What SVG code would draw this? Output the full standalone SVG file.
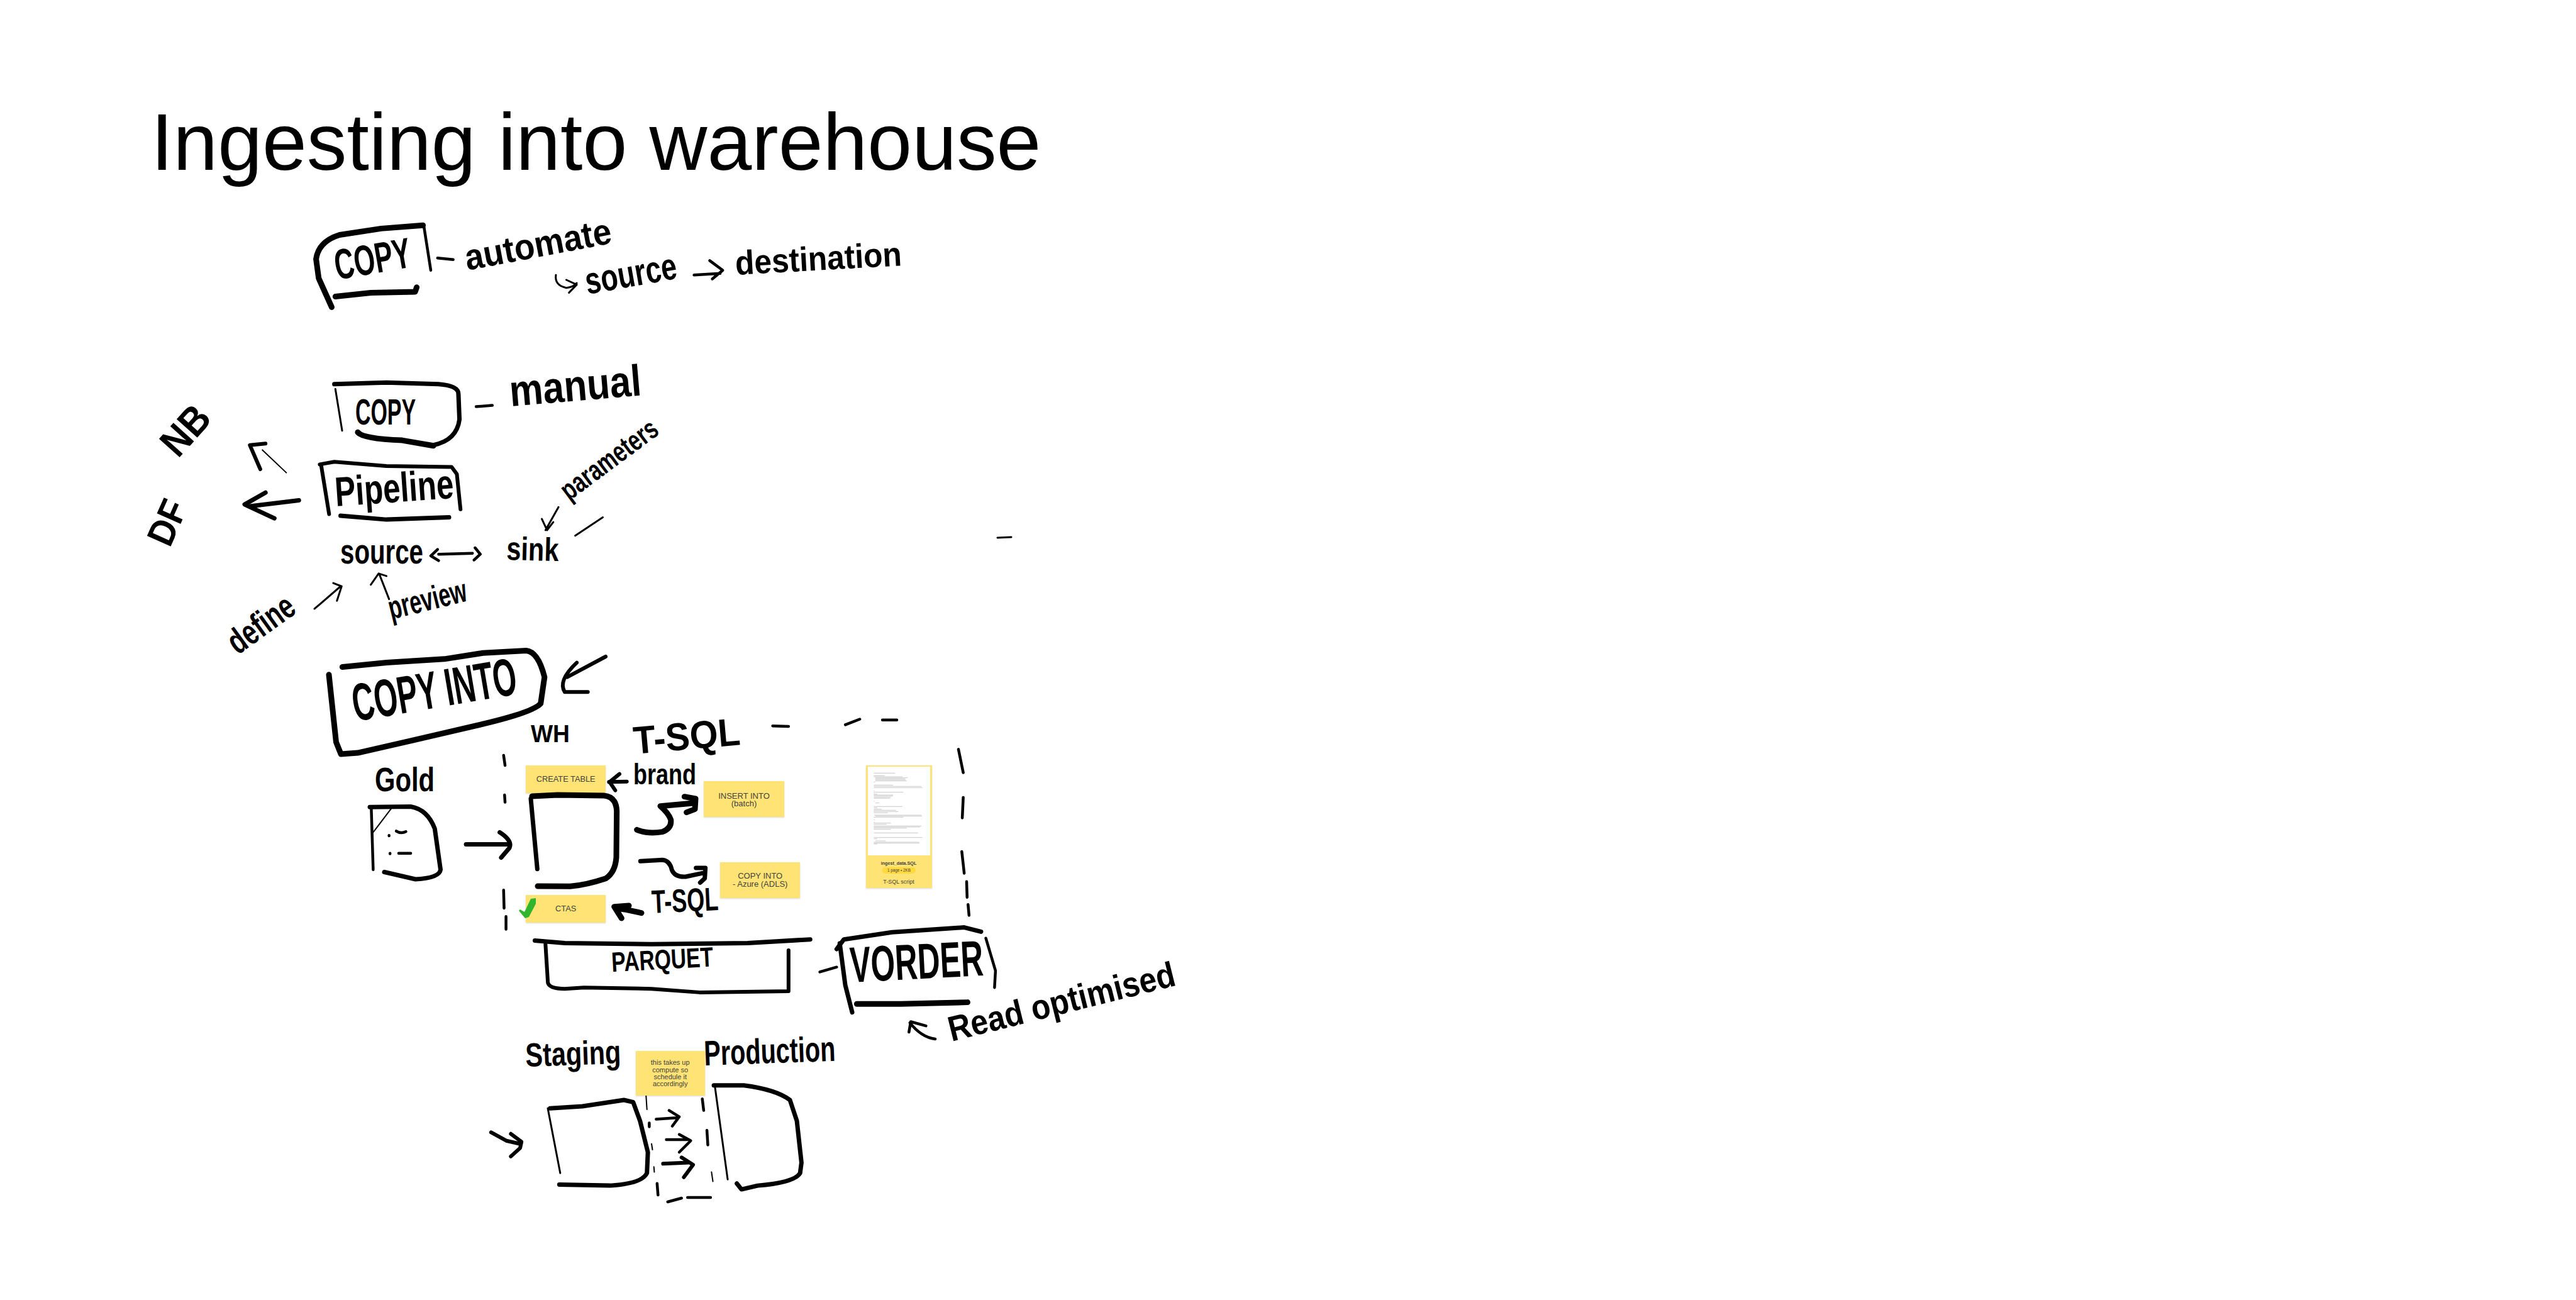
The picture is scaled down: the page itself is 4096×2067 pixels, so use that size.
<svg xmlns="http://www.w3.org/2000/svg" width="4096" height="2067" viewBox="0 0 4096 2067">
<defs>
<filter id="sh" x="-10%" y="-10%" width="120%" height="125%"><feDropShadow dx="0" dy="1" stdDeviation="1" flood-color="#000" flood-opacity="0.16"/></filter>
</defs>
<style>
.i{fill:none;stroke:#000;stroke-linecap:round;stroke-linejoin:round;vector-effect:non-scaling-stroke}
.w1{stroke-width:2}.w2{stroke-width:3}.w3{stroke-width:4.5}.w4{stroke-width:6}.w5{stroke-width:7}.w6{stroke-width:9}
.h{font-family:"Liberation Sans",Arial,sans-serif;font-weight:700;fill:#000}
.s{fill:#ffe475;filter:url(#sh)}
.t{font-family:"Liberation Sans",Arial,sans-serif;fill:#3f3f3f;text-anchor:middle}
.l{stroke:#8a8a8a;stroke-width:1.4;fill:none}
</style>
<rect width="4096" height="2067" fill="#fff"/>
<text id="title" x="240" y="270" font-family="'Liberation Sans',Arial,sans-serif" font-size="127.3" fill="#000">Ingesting into warehouse</text>

<g id="connectors">
<g transform="translate(200,320) scale(.829,.5102)">
<path class="i w3" d="M598 177L628 182"/>
<path class="i w2" d="M825 230Q822 262 845 270Q858 268 865 255M845 245L865 260L850 285"/>
<path class="i w3" d="M1090 230L1140 225M1120 185L1145 215L1125 242"/>
<path class="i w3" d="M672 640L703 636"/>
<path class="i w1" d="M308 846L262 775"/>
<path class="i w4" d="M258 835L238 760L268 755"/>
<path class="i w5" d="M332 932L240 950M268 908L228 945L285 988"/>
<path class="i w3" d="M600 1100L665 1097M598 1085L585 1105L600 1120M670 1080L680 1100L668 1118"/>
<path class="i w2" d="M830 953L805 1025M798 990L808 1025L820 1000"/>
<path class="i w2" d="M915 985L862 1042"/>
<path class="i w2" d="M362 1270L412 1200M398 1190L414 1200L405 1245"/>
<path class="i w2" d="M505 1240L487 1165M470 1195L485 1160L500 1168"/>
</g>
<g transform="translate(500,1000) scale(.7653,.3827)">
<path class="i w4" d="M605 115L525 200M545 140Q505 215 520 262L568 262"/>
<path class="i w5" d="M315 895L405 895M385 845Q412 880 405 910L388 950"/>
<path class="i w3" d="M1050 1425L1085 1405"/>
</g>
<g transform="translate(820,1190) scale(.3333)">
<path class="i w4" d="M445 160L530 158M495 122L448 160L475 200"/>
<path class="i w6" d="M578 388Q630 410 700 398Q745 380 740 340Q730 310 690 275L855 260M805 230L858 240L855 290L815 305"/>
<path class="i w5" d="M595 538L700 532Q735 535 745 580Q760 615 810 612L890 595M860 570L905 570L902 620L880 640"/>
<path class="i w6" d="M600 785L530 770L478 762M540 750L470 755L505 810"/>
</g>
<g transform="translate(750,1500) scale(.7334,.332)">
<path class="i w3" d="M1005 458Q975 450 950 380M948 425L952 375L985 395"/>
<path class="i w4" d="M42 905L75 945L105 960M85 912L108 950L105 980L85 1020"/>
<path class="i w3" d="M400 842L445 835M428 800L450 830L435 875"/>
<path class="i w3" d="M422 940L470 940M450 915L475 945L450 1000"/>
<path class="i w4" d="M415 1055L470 1050M455 1025L480 1060L460 1120"/>
</g>
<path class="i w2" d="M1586 855L1608 854"/>
</g>

<g id="copy-automate">
<g transform="translate(200,320) scale(.829,.5102)">
<path class="i w6" d="M570 75L490 85L410 105Q370 125 365 180L370 240L395 330"/>
<path class="i w3" d="M572 80L585 215"/>
<path class="i w6" d="M402 297L470 285L555 282L558 268"/>
</g>
<text class="h" x="536" y="445" font-size="68" textLength="122" lengthAdjust="spacingAndGlyphs" transform="rotate(-9.8 536 445)">COPY</text>
<text class="h" x="743" y="430" font-size="58" textLength="236" lengthAdjust="spacingAndGlyphs" transform="rotate(-10.7 743 430)">automate</text>
<text class="h" x="934" y="468" font-size="60" textLength="147" lengthAdjust="spacingAndGlyphs" transform="rotate(-10 934 468)">source</text>
<text class="h" x="1170" y="437" font-size="54" textLength="265" lengthAdjust="spacingAndGlyphs" transform="rotate(-3.2 1170 437)">destination</text>
</g>

<g id="copy-manual">
<g transform="translate(200,320) scale(.829,.5102)">
<path class="i w5" d="M400 570L500 565L600 570Q638 575 638 600L640 680Q635 745 590 760"/>
<path class="i w2" d="M402 585L415 715"/>
<path class="i w6" d="M445 720Q455 740 530 745L590 762"/>
</g>
<text class="h" x="565" y="675" font-size="57" textLength="96" lengthAdjust="spacingAndGlyphs">COPY</text>
<text class="h" x="812" y="646" font-size="70" textLength="210" lengthAdjust="spacingAndGlyphs" transform="rotate(-4.8 812 646)">manual</text>
</g>

<g id="pipeline">
<g transform="translate(200,320) scale(.829,.5102)">
<path class="i w4" d="M372 820L400 812L500 825L625 828L635 850L642 960"/>
<path class="i w4" d="M375 825L390 975"/>
<path class="i w5" d="M412 980L500 992L620 985"/>
</g>
<text class="h" x="534" y="805" font-size="66" textLength="189" lengthAdjust="spacingAndGlyphs" transform="rotate(-4 534 805)">Pipeline</text>
</g>

<g id="labels">
<text class="h" x="283" y="730" font-size="64" textLength="84" lengthAdjust="spacingAndGlyphs" transform="rotate(-48 283 730)">NB</text>
<text class="h" x="270" y="872" font-size="60" textLength="72" lengthAdjust="spacingAndGlyphs" transform="rotate(-66 270 872)">DF</text>
<text class="h" x="541" y="896" font-size="56" textLength="132" lengthAdjust="spacingAndGlyphs">source</text>
<text class="h" x="805" y="890" font-size="52" textLength="83" lengthAdjust="spacingAndGlyphs" transform="rotate(1.5 805 890)">sink</text>
<text class="h" x="905" y="797" font-size="46" textLength="181" lengthAdjust="spacingAndGlyphs" transform="rotate(-36.7 905 797)">parameters</text>
<text class="h" x="378" y="1042" font-size="56" textLength="118" lengthAdjust="spacingAndGlyphs" transform="rotate(-35.7 378 1042)">define</text>
<text class="h" x="622" y="985" font-size="52" textLength="127" lengthAdjust="spacingAndGlyphs" transform="rotate(-13.7 622 985)">preview</text>
<text class="h" x="844" y="1180" font-size="38" textLength="62" lengthAdjust="spacingAndGlyphs">WH</text>
<text class="h" x="1009" y="1199" font-size="62" textLength="170" lengthAdjust="spacingAndGlyphs" transform="rotate(-5 1009 1199)">T-SQL</text>
<text class="h" x="596" y="1258" font-size="53" textLength="95" lengthAdjust="spacingAndGlyphs">Gold</text>
<text class="h" x="1007" y="1247" font-size="46" textLength="100" lengthAdjust="spacingAndGlyphs">brand</text>
<text class="h" x="1037" y="1452" font-size="52" textLength="106" lengthAdjust="spacingAndGlyphs" transform="rotate(-2.7 1037 1452)">T-SQL</text>
<text class="h" x="1513" y="1656" font-size="56" textLength="370" lengthAdjust="spacingAndGlyphs" transform="rotate(-14 1513 1656)">Read optimised</text>
<text class="h" x="836" y="1696" font-size="53" textLength="152" lengthAdjust="spacingAndGlyphs" transform="rotate(-2 836 1696)">Staging</text>
<text class="h" x="1120" y="1694" font-size="56" textLength="209" lengthAdjust="spacingAndGlyphs" transform="rotate(-2 1120 1694)">Production</text>
</g>

<g id="copy-into">
<g transform="translate(500,1000) scale(.7653,.3827)">
<path class="i w6" d="M58 158L150 140L270 125L350 100L440 90Q465 95 478 200L470 310Q455 345 350 395L200 465L90 515L55 520L45 470L30 190"/>
</g>
<text class="h" x="565" y="1147" font-size="84" textLength="264" lengthAdjust="spacingAndGlyphs" transform="rotate(-9.6 565 1147)">COPY INTO</text>
</g>

<g id="wh-region">
<g transform="translate(500,1000) scale(.7653,.3827)">
<path class="i w3" d="M952 403L985 405M1103 398L1133 375M1180 378L1210 378"/>
<path class="i w3" d="M1338 500L1348 597M1348 700L1346 785M1345 925L1350 1015M1355 1050L1356 1115M1358 1145L1360 1190"/>
<path class="i w3" d="M393 525L396 567M395 690L396 720M393 1085L394 1160M398 1195L398 1248"/>
</g>
</g>

<g id="gold">
<g transform="translate(500,1000) scale(.7653,.3827)">
<path class="i w5" d="M115 740L200 738Q235 750 250 830L262 1000Q260 1035 210 1040L145 1010"/>
<path class="i w3" d="M118 740L122 1000"/>
<path class="i w1" d="M160 745L122 845"/>
<path class="i w3" d="M155 858L155 860M170 840Q180 852 190 842M157 932L157 934M175 932L200 932"/>
</g>
</g>

<g id="create-table">
<rect class="s" x="836" y="1217" width="127" height="44"/>
<text class="t" x="899.7" y="1243" font-size="12.8">CREATE TABLE</text>
</g>
<g id="warehouse-box">
<g transform="translate(820,1190) scale(.3333)">
<path class="i w6" d="M78 228L200 222L420 225Q480 230 482 300L480 520Q475 590 430 620Q340 650 260 658L105 657"/>
<path class="i w5" d="M72 240L103 575"/>
</g>
</g>
<g id="insert-into">
<rect class="s" x="1119" y="1242" width="128" height="57"/>
<text class="t" x="1183" y="1269.5" font-size="13">INSERT INTO</text>
<text class="t" x="1183" y="1281.5" font-size="13">(batch)</text>
</g>
<g id="copy-into-note">
<rect class="s" x="1145" y="1371" width="127" height="57"/>
<text class="t" x="1208.7" y="1397" font-size="13">COPY INTO</text>
<text class="t" x="1208.7" y="1410" font-size="13">- Azure (ADLS)</text>
</g>
<g id="ctas">
<rect class="s" x="836" y="1423" width="127" height="44"/>
<text class="t" x="899.7" y="1449.3" font-size="12.8">CTAS</text>
<polygon fill="#30b52c" points="825,1448 835,1460 841,1458 852,1437 852,1428 844,1429 834,1450 827,1446"/>
</g>
<g id="script-card">
<rect class="s" x="1377" y="1217" width="105" height="195"/>
<rect x="1380" y="1219" width="99" height="141" fill="#fff"/>
<g transform="translate(1340,1190) scale(.3333)">
<path class="l" d="M148 118H250M148 130H200M148 135H285M155 140H310M155 145H298M155 150H300M155 155H305M148 160H155M148 175H240M148 181H375M148 187H380M148 203H152M148 209H290M148 213H150M148 218H165M148 222H240M148 227H240M148 233H230M148 238H225M148 252H152M155 260H175M148 277H285M148 283H165M148 290H185M148 295H255M148 301H265M148 307H215M150 318H375M155 323H378M148 328H290M148 340H152M148 352H152M148 356H230M148 362H210M148 370H375M148 375H370M148 380H305M148 386H230M148 403H360M148 425H380M148 431H165M155 441H205M148 447H365M148 452H365M148 456H165"/>
</g>
<text class="t" x="1429" y="1375" font-size="7.2" font-weight="700">ingest_data.SQL</text>
<rect x="1402.7" y="1378.7" width="53.3" height="10.3" rx="5.1" fill="#ffd93f"/>
<text class="t" x="1429.5" y="1385.6" font-size="6.3">1 page • 2KB</text>
<text class="t" x="1429" y="1405" font-size="9">T-SQL script</text>
</g>

<g id="parquet">
<g transform="translate(500,1000) scale(.7653,.3827)">
<path class="i w5" d="M458 1295L520 1305L700 1310L900 1305L1030 1290"/>
<path class="i w4" d="M480 1310L485 1470Q488 1495 520 1495L560 1490L700 1495L800 1510L985 1505L985 1335"/>
</g>
<text class="h" x="973" y="1545" font-size="44" textLength="162" lengthAdjust="spacingAndGlyphs" transform="rotate(-3 973 1545)">PARQUET</text>
</g>
<g id="vorder">
<g transform="translate(500,1000) scale(.7653,.3827)">
<path class="i w5" d="M1085 1330L1100 1290L1200 1260L1350 1240L1385 1258"/>
<path class="i w3" d="M1395 1285L1415 1420L1413 1490"/>
</g>
<g transform="translate(750,1500) scale(.7334,.332)">
<path class="i w5" d="M798 0L810 200L825 330"/>
<path class="i w6" d="M835 290L930 290L1075 282"/>
</g>
<text class="h" x="1353" y="1562" font-size="80" textLength="212" lengthAdjust="spacingAndGlyphs" transform="rotate(-3 1353 1562)">VORDER</text>
</g>

<g id="staging">
<g transform="translate(750,1500) scale(.7334,.332)">
<path class="i w5" d="M170 790L240 780L330 750L350 760L365 850L382 1000L380 1100Q370 1150 300 1160L190 1155"/>
<path class="i w2" d="M165 790L192 1100"/>
</g>
</g>
<g id="production">
<g transform="translate(750,1500) scale(.7334,.332)">
<path class="i w5" d="M525 680L590 680Q660 700 690 750L705 850L715 1050L712 1100Q700 1145 620 1160L585 1178L575 1150"/>
<path class="i w2" d="M527 680L555 1130"/>
</g>
</g>
<g id="transfer-region">
<g transform="translate(750,1500) scale(.7334,.332)">
<path class="i w1" d="M378 727L380 795M390 960L392 988M395 1070L396 1095M520 1095L523 1140"/>
<path class="i w3" d="M385 860L385 878M402 1150L404 1205M425 1238L455 1220M468 1217L518 1217M510 895L512 965M500 745L503 800"/>
</g>
</g>
<g id="compute-note">
<rect class="s" x="1011" y="1671" width="110" height="71"/>
<text class="t" x="1065.7" y="1693.3" font-size="11">this takes up</text>
<text class="t" x="1065.7" y="1704.8" font-size="11">compute so</text>
<text class="t" x="1065.7" y="1715.8" font-size="11">schedule it</text>
<text class="t" x="1065.7" y="1726.8" font-size="11">accordingly</text>
</g>
</svg>
